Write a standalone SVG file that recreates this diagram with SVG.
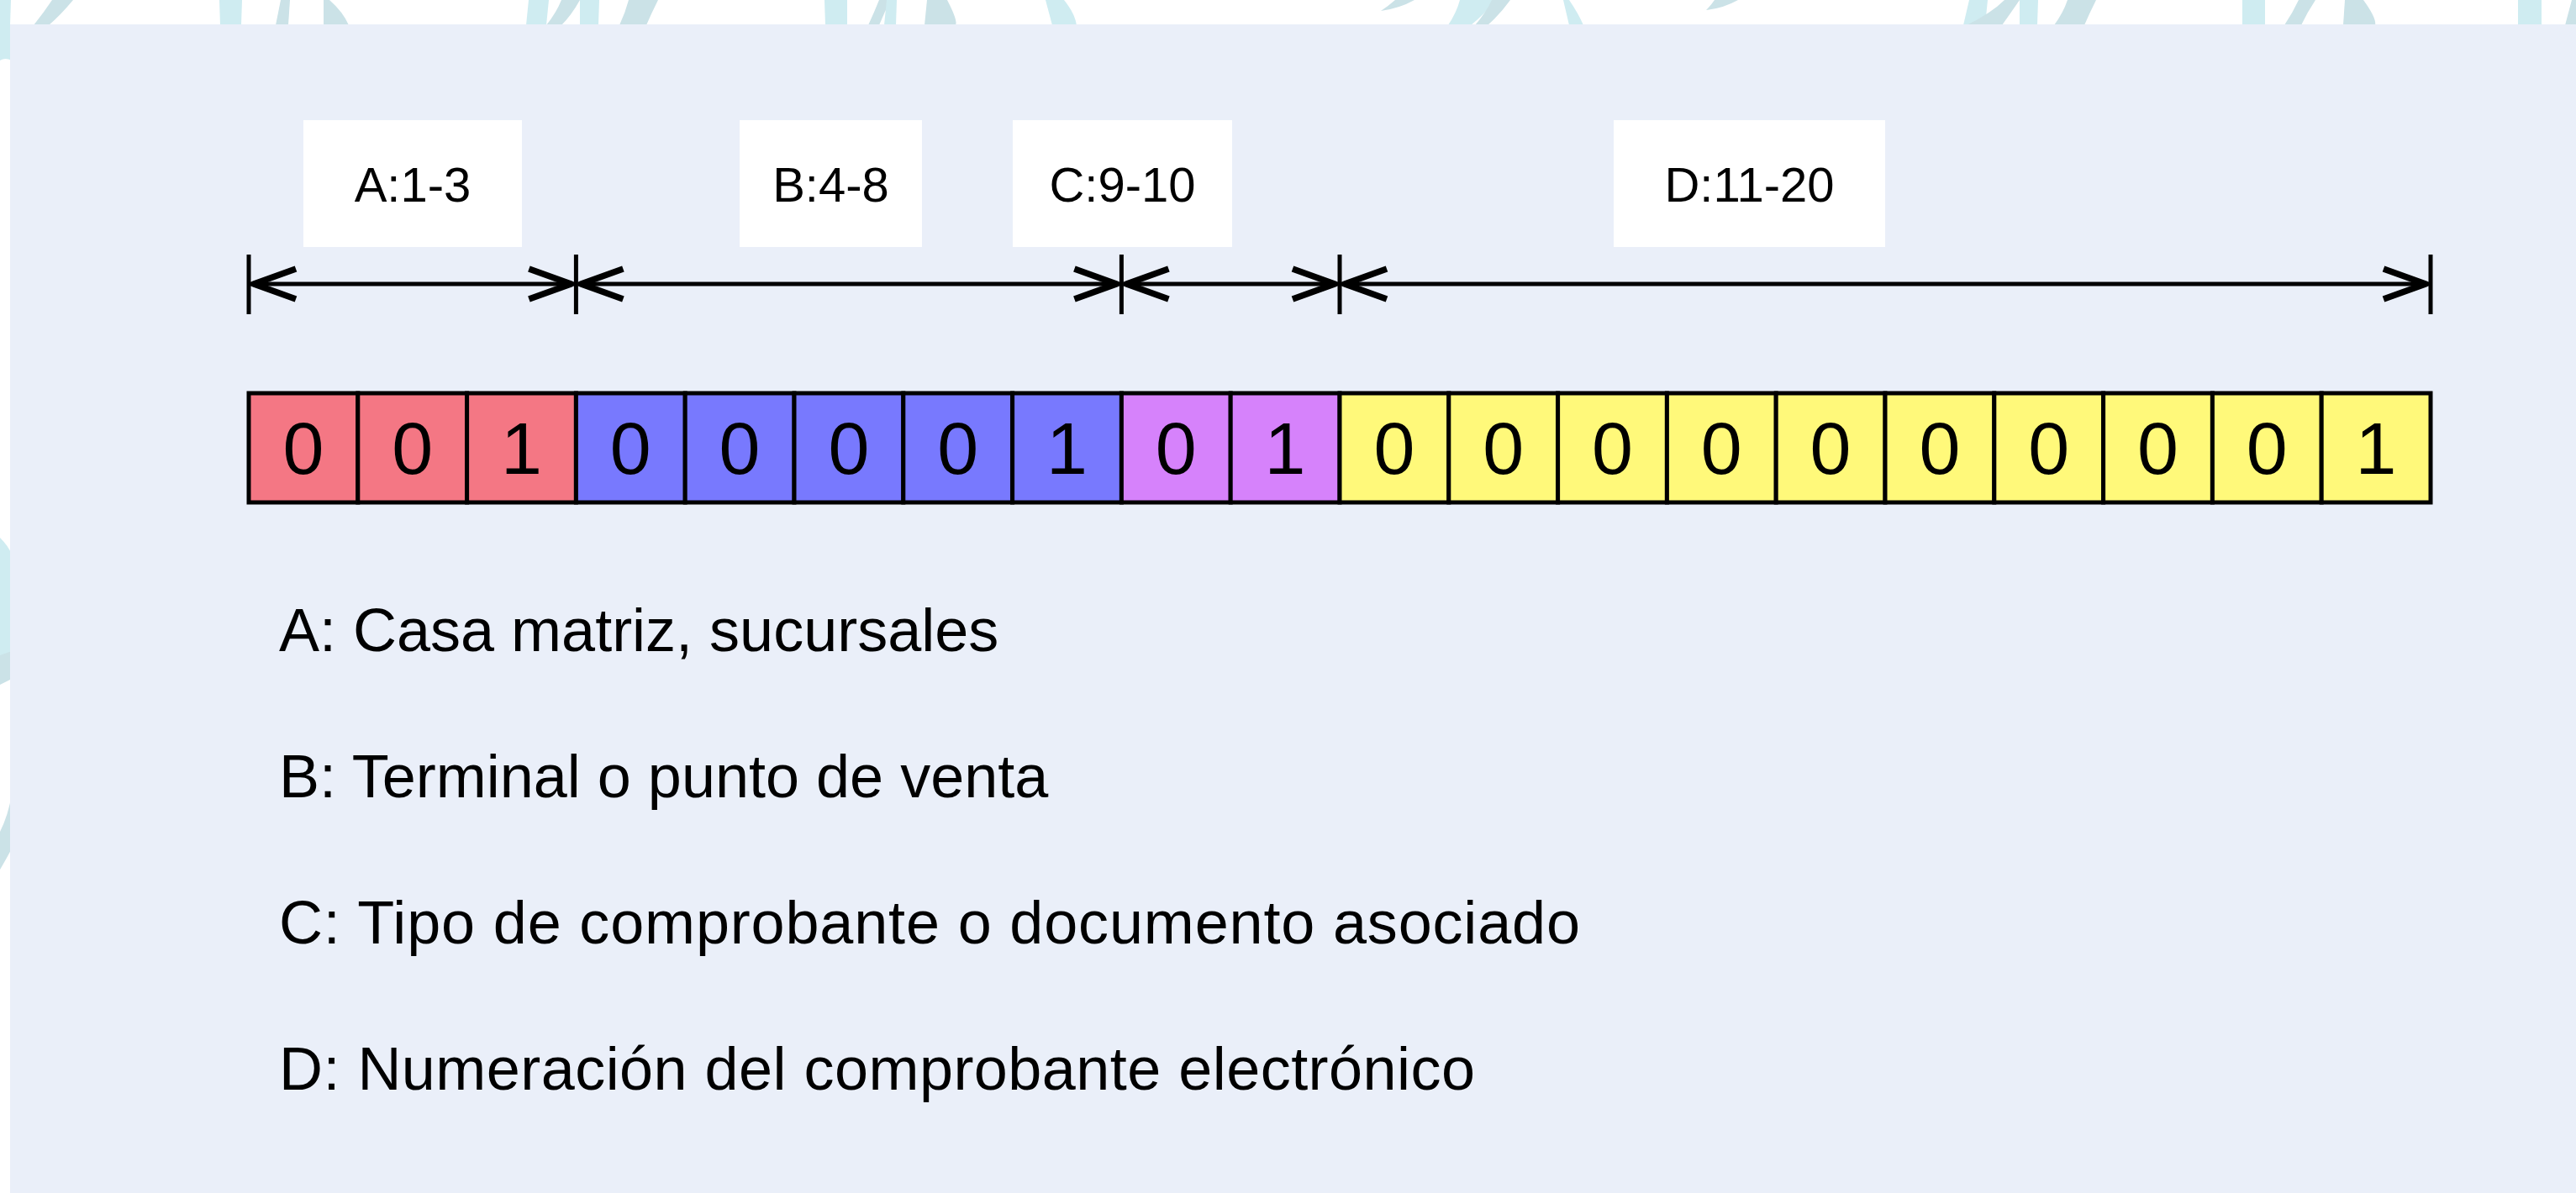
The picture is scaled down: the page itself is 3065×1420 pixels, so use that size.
<svg xmlns="http://www.w3.org/2000/svg" width="3065" height="1420" viewBox="0 0 3065 1420">
<style>
  .deco1{fill:#CFECF1}
  .deco2{fill:#CBE2E7}
  .lbox{fill:#FFFFFF}
  .ltxt{font-family:"Liberation Sans",Arial,sans-serif;font-size:58px;fill:#000;text-anchor:middle}
  .cell{stroke:#000;stroke-width:5}
  .a{fill:#F47784}
  .b{fill:#7879FE}
  .c{fill:#D682FB}
  .d{fill:#FFF97A}
  .dig{font-family:"Liberation Sans",Arial,sans-serif;font-size:88px;fill:#000;text-anchor:middle}
  .leg{font-family:"Liberation Sans",Arial,sans-serif;font-size:72px;fill:#000}
  .dim{stroke:#000;stroke-width:5;fill:none}
  .tick{stroke:#000;stroke-width:5}
</style>
<defs>
  <marker id="open" viewBox="-62 -24 66 48" refX="0" refY="0" markerWidth="66" markerHeight="48" markerUnits="userSpaceOnUse" orient="auto-start-reverse">
    <path d="M-54,-18 L-4,0 L-54,18" fill="none" stroke="#000" stroke-width="7.5" stroke-linejoin="round" stroke-linecap="butt"/>
  </marker>
</defs>

<!-- background decorations -->
<rect x="0" y="0" width="3065" height="1420" fill="#FFFFFF"/>
<g id="decor">
  <path class="deco1" d="M0,0 L13,0 L12,30 L0,30 Z"/>
  <path class="deco2" d="M62,0 L87,0 Q72,18 58,30 L40,30 Q52,15 62,0 Z"/>
  <path class="deco1" d="M261,0 L288,0 L287,30 L262,30 Z"/>
  <path class="deco2" d="M334,0 L345,0 L343,30 L328,30 Z"/>
  <path class="deco2" d="M385,0 L392,0 Q408,14 415,30 L385,30 Z"/>
  <path class="deco1" d="M629,0 L653,0 L650,30 L626,30 Z"/>
  <path class="deco2" d="M668,0 L690,0 Q680,18 668,30 L650,30 Q662,15 668,0 Z"/>
  <path class="deco1" d="M690,0 L713,0 L712,30 L690,30 Z"/>
  <path class="deco2" d="M748,0 L783,0 Q775,16 769,30 L737,30 Q744,15 748,0 Z"/>
  <path class="deco1" d="M981,0 L1008,0 L1008,30 L982,30 Z"/>
  <path class="deco2" d="M1046,0 L1060,0 Q1052,15 1046,30 L1033,30 Q1040,15 1046,0 Z"/>
  <path class="deco1" d="M1055,0 L1067,0 L1066,30 L1052,30 Z"/>
  <path class="deco2" d="M1103,0 L1127,0 Q1140,25 1137,30 L1100,30 Z"/>
  <path class="deco1" d="M1244,0 L1266,0 Q1279,16 1281,30 L1252,30 Z"/>
  <path class="deco2" d="M1660,0 L1683,0 Q1665,10 1643,13 Q1652,7 1660,0 Z"/>
  <path class="deco1" d="M1737,0 L1780,0 Q1765,18 1750,30 L1723,30 Q1733,15 1737,0 Z"/>
  <path class="deco2" d="M1775,0 L1797,0 Q1784,18 1770,30 L1755,30 Q1768,15 1775,0 Z"/>
  <path class="deco1" d="M1860,0 L1867,0 Q1878,16 1884,30 L1867,30 Z"/>
  <path class="deco2" d="M2040,0 L2068,0 Q2050,10 2030,12 Q2036,6 2040,0 Z"/>
  <path class="deco1" d="M2343,0 L2365,0 L2362,30 L2336,30 Z"/>
  <path class="deco2" d="M2385,0 L2403,0 Q2392,16 2382,30 L2340,30 Q2370,15 2385,0 Z"/>
  <path class="deco1" d="M2403,0 L2425,0 L2424,30 L2403,30 Z"/>
  <path class="deco2" d="M2460,0 L2494,0 Q2486,16 2480,30 L2444,30 Q2455,15 2460,0 Z"/>
  <path class="deco1" d="M2668,0 L2695,0 L2695,30 L2668,30 Z"/>
  <path class="deco2" d="M2735,0 L2755,0 Q2745,15 2738,30 L2718,30 Q2728,15 2735,0 Z"/>
  <path class="deco2" d="M2790,0 L2812,0 Q2828,22 2826,30 L2788,30 Z"/>
  <path class="deco1" d="M2996,0 L3024,0 L3024,30 L2996,30 Z"/>
  <path class="deco2" d="M3060,0 L3065,0 L3065,30 L3052,30 Z"/>
  <path class="deco1" d="M0,30 L14,30 L14,72 Q6,68 0,72 Z"/>
  <path class="deco1" d="M0,640 Q10,650 14,660 L14,790 Q8,800 0,805 Z"/>
  <path class="deco2" d="M0,780 L14,775 L14,808 L0,815 Z"/>
  <path class="deco2" d="M14,945 L14,1010 Q6,1025 0,1035 L0,990 Q10,970 14,945 Z"/>
</g>

<!-- panel -->
<rect id="panel" x="12" y="29" width="3053" height="1391" fill="#EAEFF9"/>

<!-- range labels -->
<g id="label-A"><rect class="lbox" x="361" y="143" width="260" height="151"/><text class="ltxt" x="491" y="240">A:1-3</text></g>
<g id="label-B"><rect class="lbox" x="880" y="143" width="217" height="151"/><text class="ltxt" x="988.5" y="240">B:4-8</text></g>
<g id="label-C"><rect class="lbox" x="1205" y="143" width="261" height="151"/><text class="ltxt" x="1335.5" y="240">C:9-10</text></g>
<g id="label-D"><rect class="lbox" x="1920" y="143" width="323" height="151"/><text class="ltxt" x="2081.5" y="240">D:11-20</text></g>

<!-- dimension connectors -->
<g id="connectors">
  <line class="tick" x1="296" y1="303" x2="296" y2="374"/>
  <line class="tick" x1="685.4" y1="303" x2="685.4" y2="374"/>
  <line class="tick" x1="1334.4" y1="303" x2="1334.4" y2="374"/>
  <line class="tick" x1="1594" y1="303" x2="1594" y2="374"/>
  <line class="tick" x1="2892" y1="303" x2="2892" y2="374"/>
  <line class="dim" x1="298" y1="338" x2="683.4" y2="338" marker-start="url(#open)" marker-end="url(#open)"/>
  <line class="dim" x1="687.4" y1="338" x2="1332.4" y2="338" marker-start="url(#open)" marker-end="url(#open)"/>
  <line class="dim" x1="1336.4" y1="338" x2="1592" y2="338" marker-start="url(#open)" marker-end="url(#open)"/>
  <line class="dim" x1="1596" y1="338" x2="2890" y2="338" marker-start="url(#open)" marker-end="url(#open)"/>
</g>

<!-- cells -->
<g id="cells">
  <g id="cell-1"><rect class="cell a" x="296" y="468" width="129.8" height="130"/><text class="dig" x="360.9" y="564">0</text></g>
  <g id="cell-2"><rect class="cell a" x="425.8" y="468" width="129.8" height="130"/><text class="dig" x="490.7" y="564">0</text></g>
  <g id="cell-3"><rect class="cell a" x="555.6" y="468" width="129.8" height="130"/><text class="dig" x="620.5" y="564">1</text></g>
  <g id="cell-4"><rect class="cell b" x="685.4" y="468" width="129.8" height="130"/><text class="dig" x="750.3" y="564">0</text></g>
  <g id="cell-5"><rect class="cell b" x="815.2" y="468" width="129.8" height="130"/><text class="dig" x="880.1" y="564">0</text></g>
  <g id="cell-6"><rect class="cell b" x="945" y="468" width="129.8" height="130"/><text class="dig" x="1009.9" y="564">0</text></g>
  <g id="cell-7"><rect class="cell b" x="1074.8" y="468" width="129.8" height="130"/><text class="dig" x="1139.7" y="564">0</text></g>
  <g id="cell-8"><rect class="cell b" x="1204.6" y="468" width="129.8" height="130"/><text class="dig" x="1269.5" y="564">1</text></g>
  <g id="cell-9"><rect class="cell c" x="1334.4" y="468" width="129.8" height="130"/><text class="dig" x="1399.3" y="564">0</text></g>
  <g id="cell-10"><rect class="cell c" x="1464.2" y="468" width="129.8" height="130"/><text class="dig" x="1529.1" y="564">1</text></g>
  <g id="cell-11"><rect class="cell d" x="1594" y="468" width="129.8" height="130"/><text class="dig" x="1658.9" y="564">0</text></g>
  <g id="cell-12"><rect class="cell d" x="1723.8" y="468" width="129.8" height="130"/><text class="dig" x="1788.7" y="564">0</text></g>
  <g id="cell-13"><rect class="cell d" x="1853.6" y="468" width="129.8" height="130"/><text class="dig" x="1918.5" y="564">0</text></g>
  <g id="cell-14"><rect class="cell d" x="1983.4" y="468" width="129.8" height="130"/><text class="dig" x="2048.3" y="564">0</text></g>
  <g id="cell-15"><rect class="cell d" x="2113.2" y="468" width="129.8" height="130"/><text class="dig" x="2178.1" y="564">0</text></g>
  <g id="cell-16"><rect class="cell d" x="2243" y="468" width="129.8" height="130"/><text class="dig" x="2307.9" y="564">0</text></g>
  <g id="cell-17"><rect class="cell d" x="2372.8" y="468" width="129.8" height="130"/><text class="dig" x="2437.7" y="564">0</text></g>
  <g id="cell-18"><rect class="cell d" x="2502.6" y="468" width="129.8" height="130"/><text class="dig" x="2567.5" y="564">0</text></g>
  <g id="cell-19"><rect class="cell d" x="2632.4" y="468" width="129.8" height="130"/><text class="dig" x="2697.3" y="564">0</text></g>
  <g id="cell-20"><rect class="cell d" x="2762.2" y="468" width="129.8" height="130"/><text class="dig" x="2827.1" y="564">1</text></g>
</g>

<!-- legend -->
<g id="legend">
  <text class="leg" x="332" y="775">A: Casa matriz, sucursales</text>
  <text class="leg" x="332" y="949">B: Terminal o punto de venta</text>
  <text class="leg" x="332" y="1123" textLength="1548" lengthAdjust="spacing">C: Tipo de comprobante o documento asociado</text>
  <text class="leg" x="332" y="1297" textLength="1423" lengthAdjust="spacing">D: Numeración del comprobante electrónico</text>
</g>
</svg>
